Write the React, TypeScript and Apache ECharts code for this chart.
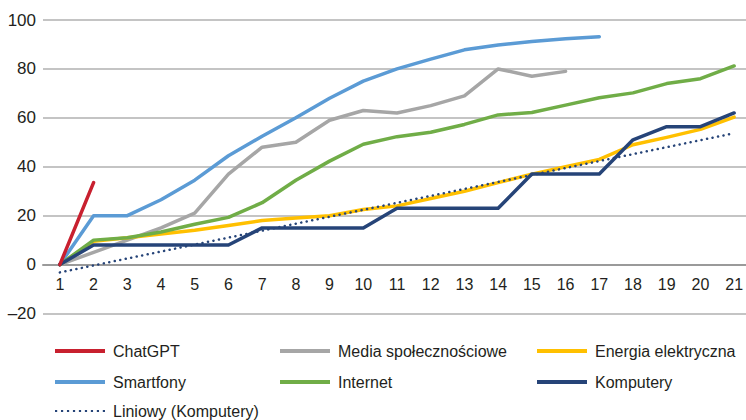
import React, { useEffect, useRef } from "react";
import * as echarts from "echarts";

const categories = ["1","2","3","4","5","6","7","8","9","10","11","12","13","14","15","16","17","18","19","20","21"];
const chatgpt = [0, 33.5];
const media = [0, 5, 10, 15, 21, 37, 48, 50, 59, 63, 62, 65, 69, 80, 77, 79];
const energia = [0, 9.5, 11, 12.5, 14, 16, 18, 19, 20, 22.5, 24, 27, 30, 33.5, 37, 40, 43, 49, 52, 55.3, 60.3];
const smartfony = [0, 20, 20, 26.5, 34.5, 44.5, 52.5, 60, 68, 75, 80, 84, 87.8, 89.8, 91.2, 92.3, 93.2];
const internet = [0, 10, 11, 13.3, 16.5, 19.3, 25.3, 34.5, 42.3, 49.2, 52.3, 54.1, 57.3, 61.2, 62.2, 65.2, 68.2, 70.2, 74, 76, 81.2];
const komputery = [0, 8, 8, 8, 8, 8, 15, 15, 15, 15, 23, 23, 23, 23, 37, 37, 37, 51, 56.4, 56.4, 62];
const trendStart = -3.2;
const trendEnd = 53.7;
const yTicks = { min: -20, max: 100, interval: 20 };

const FONT = "'Liberation Sans', Arial, sans-serif";
const TXT = "#231F20";

const DOTS = "path://" + Array.from({ length: 9 }, (_, i) => `M${i * 6},0h2.2v2.2h-2.2z`).join(" ");

export default function App() {
  const ref = useRef<HTMLDivElement>(null);
  useEffect(() => {
    if (!ref.current) return;
    const chart = echarts.init(ref.current, undefined, { renderer: "svg" });
    const trend = categories.map((_, i) => (i === 0 ? trendStart : i === categories.length - 1 ? trendEnd : null));
    const line = (name: string, data: any[], color: string, extra: any = {}) => ({
      name,
      type: "line",
      data,
      symbol: "none",
      connectNulls: true,
      lineStyle: { color, width: 3.5, cap: "round", join: "round", ...(extra.lineStyle || {}) },
      itemStyle: { color },
      z: extra.z || 2,
    });
    const leg = (name: string, left: number, top: number, dotted = false) => ({
      left,
      top,
      padding: 0,
      itemWidth: 50,
      itemHeight: dotted ? 2.2 : 4,
      icon: dotted ? DOTS : "rect",
      data: [{ name, icon: dotted ? DOTS : "rect" }],
      textStyle: { fontFamily: FONT, fontSize: 16, lineHeight: 16, color: TXT, padding: [0, 0, 0, 3] },
    });
    const r1 = 343, r2 = 374, r3 = 403;
    chart.setOption({
      animation: false,
      textStyle: { fontFamily: FONT },
      grid: { left: 43, right: 0, top: 20, bottom: 106.5, containLabel: false },
      xAxis: {
        type: "category",
        data: categories,
        boundaryGap: true,
        position: "bottom",
        offset: -48.9,
        axisLine: { onZero: false, lineStyle: { color: "#9A9A9A", width: 2 } },
        axisTick: { show: false },
        axisLabel: { fontFamily: FONT, fontSize: 16, color: TXT, margin: 12 },
        splitLine: { show: false },
      },
      yAxis: {
        type: "value",
        min: yTicks.min,
        max: yTicks.max,
        interval: yTicks.interval,
        axisLine: { show: false },
        axisTick: { show: false },
        axisLabel: {
          fontFamily: FONT,
          fontSize: 17,
          color: TXT,
          margin: 7,
          formatter: (v: number) => String(v).replace("-", "\u2013"),
        },
        splitLine: { lineStyle: { color: "#B0B0B0", width: 1.5 } },
      },
      legend: [
        leg("ChatGPT", 55, r1),
        leg("Media społecznościowe", 280, r1),
        leg("Energia elektryczna", 537, r1),
        leg("Smartfony", 55, r2),
        leg("Internet", 280, r2),
        leg("Komputery", 537, r2),
        leg("Liniowy (Komputery)", 55, r3, true),
      ],
      series: [
        line("ChatGPT", chatgpt, "#C8202F", { z: 5 }),
        line("Media społecznościowe", media, "#A6A6A6"),
        line("Energia elektryczna", energia, "#FFC000"),
        line("Smartfony", smartfony, "#5B9BD5"),
        line("Internet", internet, "#70AD47"),
        line("Komputery", komputery, "#264478"),
        line("Liniowy (Komputery)", trend, "#264478", { lineStyle: { width: 2.5, type: [0.1, 5.5], cap: "round" }, z: 4 }),
      ],
    });
    return () => chart.dispose();
  }, []);
  return (
    <div style={{ position: "fixed", left: 0, top: 0, width: 746, height: 420, overflow: "hidden", background: "#fff" }}>
      <div ref={ref} style={{ width: 751, height: 420 }} />
    </div>
  );
}
